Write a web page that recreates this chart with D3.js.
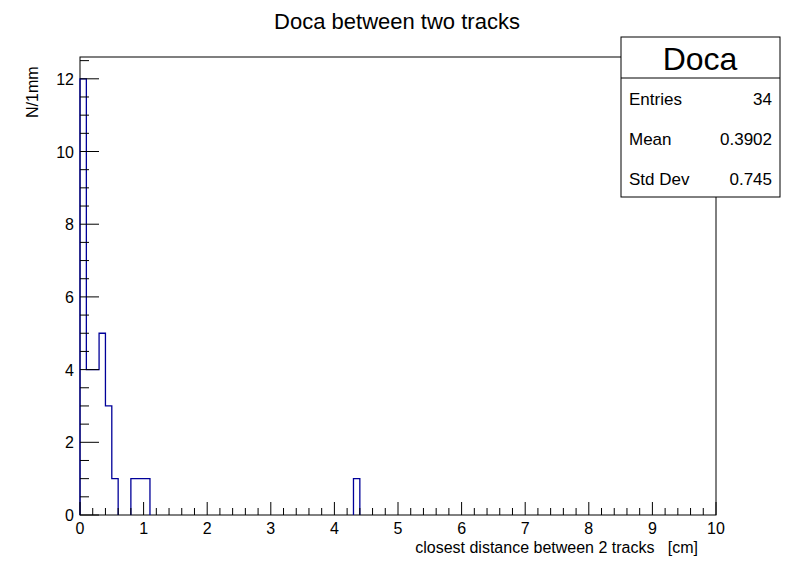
<!DOCTYPE html>
<html><head><meta charset="utf-8">
<script src="https://cdn.jsdelivr.net/npm/d3@7"></script>
<style>body{margin:0;background:#fff}text{font-family:"Liberation Sans",Arial,sans-serif;white-space:pre}</style>
</head><body>
<script>
// histogram bins (lower edge cm, count), 1 mm bins
const binEdges = [0.0, 0.1, 0.2, 0.3, 0.4, 0.5, 0.8, 0.9, 1.0, 4.3]
const binCounts = [12, 4, 4, 5, 3, 1, 1, 1, 1, 1]
const statLabels = ["Entries", "Mean", "Std Dev"]
const statValues = ["34", "0.3902", "0.745"]
const binWidth = 0.1

const W = 796, H = 572
const margin = {left: 80, right: 80, top: 57, bottom: 57}
const svg = d3.select("body").append("svg").attr("width", W).attr("height", H)

const x = d3.scaleLinear().domain([0, 10]).range([margin.left, W - margin.right])
const y = d3.scaleLinear().domain([0, 12.6]).range([H - margin.bottom, margin.top])

// frame
svg.append("rect").attr("x", x(0)).attr("y", y(12.6)).attr("width", x(10) - x(0)).attr("height", y(0) - y(12.6))
	.attr("fill", "none").attr("stroke", "black")

// histogram: one step path per contiguous run of bins
const groups = []
binEdges.forEach((e, i) => {
	const g = groups[groups.length - 1]
	if (g && Math.abs(g.end - e) < 1e-9) { g.pts.push([e, binCounts[i]], [e + binWidth, binCounts[i]]); g.end = e + binWidth }
	else groups.push({pts: [[e, 0], [e, binCounts[i]], [e + binWidth, binCounts[i]]], end: e + binWidth})
})
groups.forEach(g => {
	g.pts.push([g.end, 0])
	svg.append("path").attr("d", d3.line().x(d => x(d[0])).y(d => y(d[1]))(g.pts))
		.attr("fill", "none").attr("stroke", "#000099").attr("stroke-width", 1.3)
})

// x ticks
const xAxis = svg.append("g")
d3.range(0, 10.001, 0.2).forEach(v => {
	const major = Math.abs(v - Math.round(v)) < 1e-6
	xAxis.append("line").attr("x1", x(v)).attr("x2", x(v)).attr("y1", y(0)).attr("y2", y(0) - (major ? 13 : 7)).attr("stroke", "black")
})
d3.range(0, 11).forEach(v => {
	xAxis.append("text").attr("x", x(v)).attr("y", y(0) + 19).attr("text-anchor", "middle").attr("font-size", 16).text(v)
})
// y ticks
d3.range(0, 12.6, 0.5).forEach(v => {
	const major = Math.abs(v / 2 - Math.round(v / 2)) < 1e-6
	svg.append("line").attr("x1", x(0)).attr("x2", x(0) + (major ? 19 : 9)).attr("y1", y(v)).attr("y2", y(v)).attr("stroke", "black")
})
d3.range(0, 13, 2).forEach(v => {
	svg.append("text").attr("x", x(0) - 6).attr("y", y(v) + 6).attr("text-anchor", "end").attr("font-size", 16).text(v)
})

// titles
svg.append("text").attr("x", 397).attr("y", 29).attr("text-anchor", "middle").attr("font-size", 22).text("Doca between two tracks")
svg.append("text").attr("x", 698).attr("y", 553).attr("text-anchor", "end").attr("font-size", 16).text("closest distance between 2 tracks   [cm]")
svg.append("text").attr("transform", "translate(38,118) rotate(-90)").attr("text-anchor", "start").attr("font-size", 16).text("N/1mm")

// stats box
const sb = svg.append("g")
sb.append("rect").attr("x", 621).attr("y", 37).attr("width", 159).attr("height", 160).attr("fill", "white").attr("stroke", "black")
sb.append("line").attr("x1", 621).attr("x2", 780).attr("y1", 78).attr("y2", 78).attr("stroke", "black")
sb.append("text").attr("x", 700).attr("y", 70).attr("text-anchor", "middle").attr("font-size", 32).text("Doca")
statLabels.forEach((l, i) => {
	const yy = 105 + i * 40
	sb.append("text").attr("x", 629).attr("y", yy).attr("font-size", 17).text(l)
	sb.append("text").attr("x", 772).attr("y", yy).attr("text-anchor", "end").attr("font-size", 17).text(statValues[i])
})
</script>
</body></html>
